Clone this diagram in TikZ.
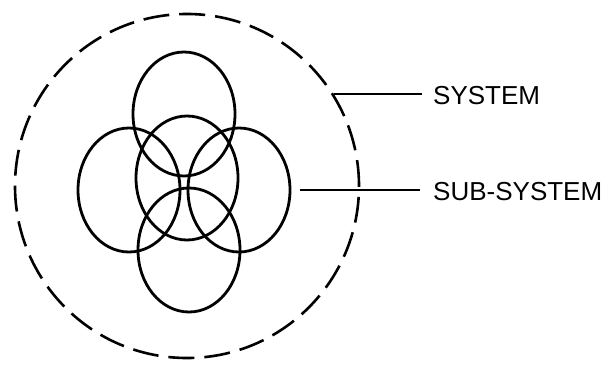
\documentclass[tikz,border=0pt]{standalone}
\usepackage{fontspec}
\setmainfont{Liberation Sans}
\usetikzlibrary{shapes.geometric}

\begin{document}
\begin{tikzpicture}[x=1pt, y=-1pt,
    sub/.style={ellipse, draw, line width=2.8pt, inner sep=0pt,
      minimum width=102pt, minimum height=124pt},
    lbl/.style={anchor=west, inner sep=0pt, font=\fontsize{26}{30}\selectfont}]
      \useasboundingbox (0,0) rectangle (609,369);

      \node[circle, draw, dash pattern=on 26pt off 10pt, line width=2.6pt,
        inner sep=0pt, minimum size=344pt] (sys) at (187,186) {};

      \node[sub] (top) at (184,114) {};
      \node[sub] (left) at (129,190) {};
      \node[sub] (right) at (239,190) {};
      \node[sub] (mid) at (187,178) {};
      \node[sub] (bot) at (189,250) {};

      \node[lbl] (syslbl) at (433,96) {SYSTEM};
      \node[lbl] (sublbl) at (433,192) {SUB-SYSTEM};

      \draw[line width=2pt, shorten >=11pt] (sys.32) -- (sys.32 -| syslbl.west);
      \draw[line width=2pt, shorten <=9pt, shorten >=13pt] (right.east) -- (right.east -| sublbl.west);
    \end{tikzpicture}
\end{document}
